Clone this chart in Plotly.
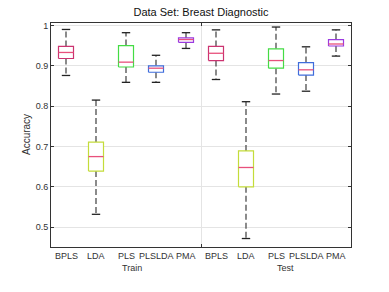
import plotly.graph_objects as go

methods = ["BPLS", "LDA", "PLS", "PLSLDA", "PMA"]
groups = ["Train", "Test"]

# Train stats
train_lower = [0.876, 0.532, 0.859, 0.859, 0.943]
train_q1 = [0.918, 0.639, 0.897, 0.884, 0.958]
train_median = [0.933, 0.675, 0.909, 0.894, 0.965]
train_q3 = [0.948, 0.711, 0.950, 0.900, 0.969]
train_upper = [0.990, 0.815, 0.982, 0.926, 0.982]

# Test stats
test_lower = [0.866, 0.472, 0.830, 0.837, 0.924]
test_q1 = [0.913, 0.600, 0.894, 0.877, 0.949]
test_median = [0.931, 0.648, 0.913, 0.890, 0.954]
test_q3 = [0.948, 0.689, 0.942, 0.908, 0.965]
test_upper = [0.989, 0.811, 0.996, 0.947, 0.989]

colors = ["#cc3370", "#c4dc3a", "#44dc44", "#3f6ddc", "#9b3ae0"]
median_color = "#e8507c"
whisker_color = "#4d4d4d"

lower = train_lower + test_lower
q1 = train_q1 + test_q1
med = train_median + test_median
q3 = train_q3 + test_q3
upper = train_upper + test_upper
names = methods + methods
cols = colors + colors
pos = list(range(1, len(names) + 1))

fig = go.Figure()
half = 0.25
cap = 0.14
for i, p in enumerate(pos):
    fig.add_trace(go.Scatter(x=[p, p, None, p, p], y=[q3[i], upper[i], None, q1[i], lower[i]],
                             mode="lines", line=dict(color=whisker_color, width=1.3, dash="6px,3px"),
                             hoverinfo="skip", showlegend=False))
    fig.add_trace(go.Scatter(x=[p - cap, p + cap, None, p - cap, p + cap],
                             y=[upper[i], upper[i], None, lower[i], lower[i]],
                             mode="lines", line=dict(color="#222222", width=1.3),
                             hoverinfo="skip", showlegend=False))
    fig.add_trace(go.Scatter(x=[p - half, p + half, p + half, p - half, p - half],
                             y=[q1[i], q1[i], q3[i], q3[i], q1[i]],
                             mode="lines", line=dict(color=cols[i], width=1.2),
                             fill="toself", fillcolor="rgba(255,255,255,1)",
                             hoverinfo="skip", showlegend=False))
    fig.add_trace(go.Scatter(x=[p - half, p + half], y=[med[i], med[i]],
                             mode="lines", line=dict(color=median_color, width=1.3),
                             hoverinfo="skip", showlegend=False))

axis_col = "#333333"
fig.update_layout(
    width=389, height=292,
    margin=dict(l=51, r=38, t=23, b=45),
    paper_bgcolor="white", plot_bgcolor="white",
    font=dict(family="Liberation Sans, Arial, sans-serif", size=9, color=axis_col),
    title=dict(text="Data Set: Breast Diagnostic", x=201 / 389, xanchor="center",
               y=1 - 12 / 292, yanchor="middle", font=dict(size=11, color="#111111")),
    xaxis=dict(range=[0.5, 10.5], tickvals=[5.5], ticktext=[""], ticks="inside", ticklen=3,
               tickcolor=axis_col, showgrid=True, gridcolor="#e4e4e4", gridwidth=1,
               showline=True, linecolor=axis_col, linewidth=1, mirror="ticks", zeroline=False,
               automargin=False),
    yaxis=dict(range=[0.451, 1.006], tickvals=[0.5, 0.6, 0.7, 0.8, 0.9, 1.0],
               ticktext=["0.5", "0.6", "0.7", "0.8", "0.9", "1"],
               ticks="inside", ticklen=3, tickcolor=axis_col,
               showgrid=True, gridcolor="#e4e4e4", gridwidth=1,
               showline=True, linecolor=axis_col, linewidth=1, mirror="ticks", zeroline=False,
               automargin=False, tickfont=dict(size=9)),
)

fig.add_annotation(x=-25 / 300, xref="paper", y=0.5, yref="paper", text="Accuracy",
                   textangle=-90, showarrow=False, font=dict(size=10, color=axis_col),
                   xanchor="center", yanchor="middle")
for p, n in zip(pos, names):
    fig.add_annotation(x=p, xref="x", y=-9 / 224, yref="paper", text=n, showarrow=False,
                       font=dict(size=9, color=axis_col), yanchor="middle")
for g, gx in zip(groups, [3.2, 8.3]):
    fig.add_annotation(x=gx, xref="x", y=-21 / 224, yref="paper", text=g, showarrow=False,
                       font=dict(size=9, color=axis_col), yanchor="middle")

fig.write_html("out.html", config={"displayModeBar": False},
               post_script="document.body.style.margin='0';")
